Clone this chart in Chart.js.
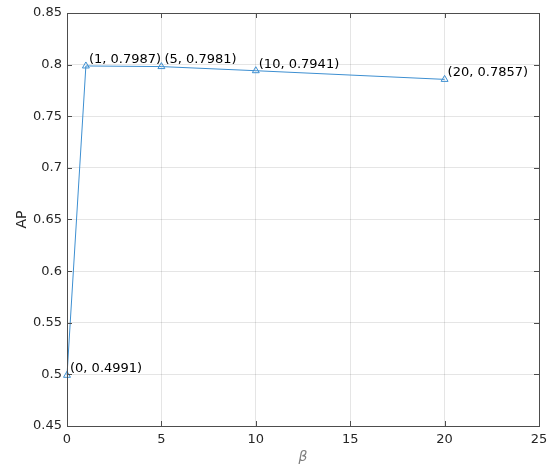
<!DOCTYPE html>
<html>
<head>
<meta charset="utf-8">
<script src="https://cdn.jsdelivr.net/npm/chart.js@4/dist/chart.umd.min.js"></script>
<style>
  html, body { margin: 0; padding: 0; background: #fff; }
  #wrap { width: 550px; height: 466px; }
</style>
</head>
<body>
<div id="wrap"><canvas id="apChart" width="550" height="466"></canvas></div>
<script>
// valores de beta y AP
const betas = [0, 1, 5, 10, 20];
const apValues = [0.4991, 0.7987, 0.7981, 0.7941, 0.7857];
const pointLabels = ['(0, 0.4991)', '(1, 0.7987)', '(5, 0.7981)', '(10, 0.7941)', '(20, 0.7857)'];
const xTicks = [0, 5, 10, 15, 20, 25];
const yTicks = [0.45, 0.5, 0.55, 0.6, 0.65, 0.7, 0.75, 0.8, 0.85];

const lineColor = '#3d8fd1';
const axisColor = '#4d4d4d';
const fontFamily = "'DejaVu Sans', sans-serif";

// caja, ticks hacia dentro y etiquetas de puntos (estilo MATLAB)
const matlabStyle = {
    id: 'matlabStyle',
    afterDatasetsDraw(chart) {
        const { ctx, chartArea: a, scales: { x, y } } = chart;
        ctx.save();
        ctx.strokeStyle = axisColor;
        ctx.lineWidth = 1;
        ctx.strokeRect(a.left + 0.5, a.top + 0.5, a.right - a.left, a.bottom - a.top);
        ctx.beginPath();
        xTicks.forEach(v => {
            const px = Math.round(x.getPixelForValue(v)) + 0.5;
            ctx.moveTo(px, a.bottom); ctx.lineTo(px, a.bottom - 5);
            ctx.moveTo(px, a.top); ctx.lineTo(px, a.top + 5);
        });
        yTicks.forEach(v => {
            const py = Math.round(y.getPixelForValue(v)) + 0.5;
            ctx.moveTo(a.left, py); ctx.lineTo(a.left + 5, py);
            ctx.moveTo(a.right, py); ctx.lineTo(a.right - 5, py);
        });
        ctx.stroke();

        ctx.fillStyle = '#000';
        ctx.font = '13px ' + fontFamily;
        ctx.textAlign = 'left';
        ctx.textBaseline = 'middle';
        betas.forEach((b, i) => {
            const px = x.getPixelForValue(b);
            const py = y.getPixelForValue(apValues[i]);
            ctx.fillText(pointLabels[i], px + 3, py - 6.5);
        });
        ctx.restore();
    }
};

const ctx = document.getElementById('apChart').getContext('2d');
new Chart(ctx, {
    type: 'scatter',
    data: {
        datasets: [{
            label: 'AP',
            data: betas.map((b, i) => ({ x: b, y: apValues[i] })),
            showLine: true,
            clip: false,
            borderColor: lineColor,
            borderWidth: 1,
            pointStyle: 'triangle',
            pointRadius: 4,
            pointBorderWidth: 1,
            pointBorderColor: lineColor,
            pointBackgroundColor: 'rgba(0,0,0,0)',
            tension: 0
        }]
    },
    options: {
        responsive: false,
        animation: false,
        layout: { padding: { top: 13, right: 11, left: 0, bottom: 0 } },
        plugins: {
            legend: { display: false },
            tooltip: { enabled: false }
        },
        scales: {
            x: {
                type: 'linear',
                min: 0,
                max: 25,
                afterBuildTicks: s => { s.ticks = xTicks.map(v => ({ value: v })); },
                afterFit: s => { s.height = 40; s.paddingRight = 0; s.paddingLeft = 0; },
                grid: { color: 'rgba(0,0,0,0.1)', tickLength: 0, drawTicks: false },
                border: { display: false },
                ticks: { color: '#262626', padding: 6, font: { family: fontFamily, size: 13 } },
                title: {
                    display: true,
                    text: 'β',
                    color: '#7f7f7f',
                    padding: { top: 0, bottom: 0 },
                    font: { family: fontFamily, size: 14, style: 'italic' }
                }
            },
            y: {
                min: 0.45,
                max: 0.85,
                afterBuildTicks: s => { s.ticks = yTicks.map(v => ({ value: v })); },
                afterFit: s => { s.width = 67; },
                grid: { color: 'rgba(0,0,0,0.1)', tickLength: 0, drawTicks: false },
                border: { display: false },
                ticks: {
                    color: '#262626',
                    padding: 5,
                    font: { family: fontFamily, size: 13 },
                    callback: v => String(parseFloat(v.toFixed(2)))
                },
                title: {
                    display: true,
                    text: 'AP',
                    color: '#262626',
                    padding: { top: 14, bottom: 0 },
                    font: { family: fontFamily, size: 14 }
                }
            }
        }
    },
    plugins: [matlabStyle]
});
</script>
</body>
</html>
